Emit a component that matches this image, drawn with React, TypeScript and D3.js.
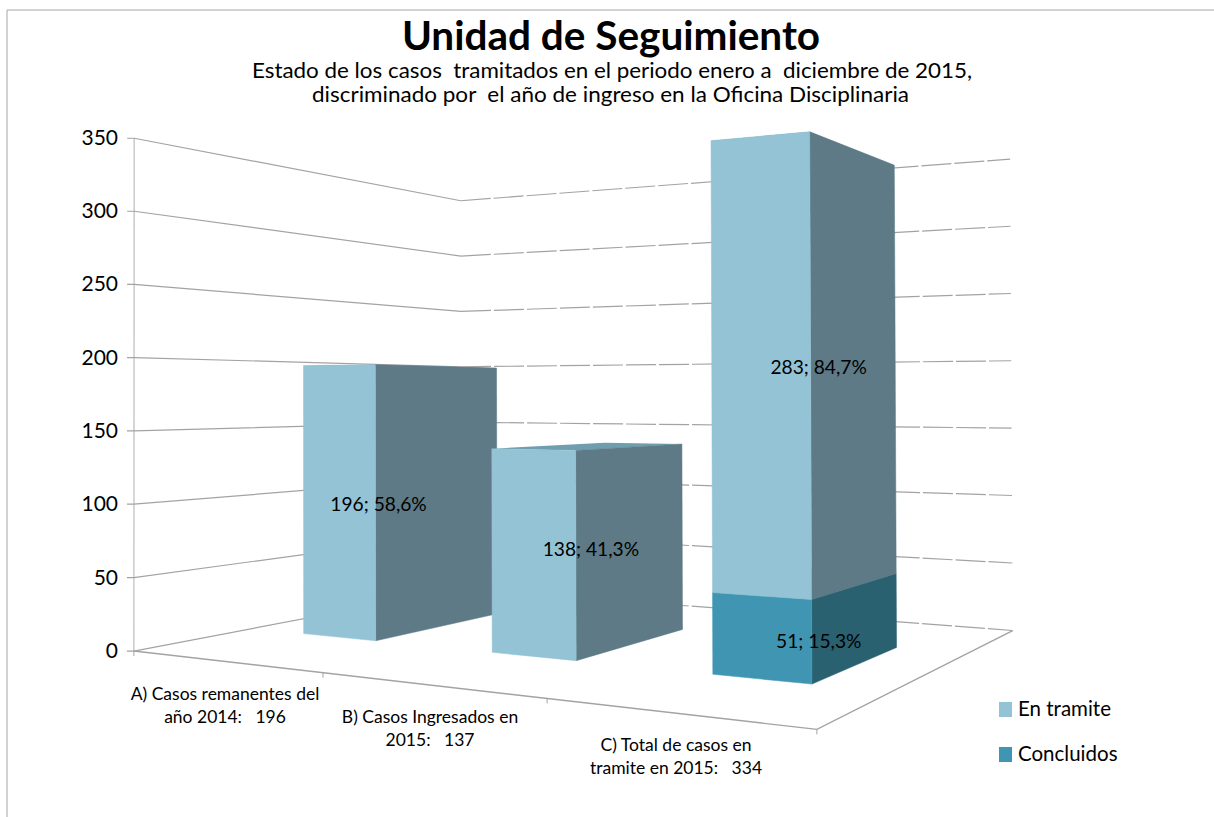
import React from 'react';
import * as d3 from 'd3';

const categories = ['A', 'B', 'C'];
const categoryLabels = [
  ['A) Casos remanentes del', 'año 2014:   196'],
  ['B) Casos Ingresados en', '2015:   137'],
  ['C) Total de casos en', 'tramite en 2015:   334'],
];
const concluidos = [0, 0, 51];
const enTramite = [196, 138, 283];
const labelsConcluidos = ['', '', '51; 15,3%'];
const labelsTramite = ['196; 58,6%', '138; 41,3%', '283; 84,7%'];
const yTicks = [0, 50, 100, 150, 200, 250, 300, 350];
const legendItems = ['En tramite', 'Concluidos'];

// puntos de la caja 3D -> pixeles de la imagen: [x, y, z, u, v]
const anchors = [
  [0, 0, 0, 134, 650],
  [1, 0, 0, 816, 729],
  [1, 0, 1, 1013, 630],
  [0, 0, 1, 461, 589],
  [0, 1, 0, 134, 138],
  [0, 1, 1, 461, 201],
  [1, 1, 1, 1010, 159],
  [1 / 3, 0, 0, 323, 673],
  [2 / 3, 0, 0, 548, 700],
];

// camara proyectiva por minimos cuadrados
function solveCamera(pts: number[][]) {
  const A: number[][] = [];
  const b: number[] = [];
  pts.forEach(([x, y, z, u0, v0]) => {
    const u = u0 / 1000;
    const v = v0 / 1000;
    A.push([x, y, z, 1, 0, 0, 0, 0, -u * x, -u * y, -u * z]);
    b.push(u);
    A.push([0, 0, 0, 0, x, y, z, 1, -v * x, -v * y, -v * z]);
    b.push(v);
  });
  const n = 11;
  const M = d3.range(n).map(i =>
    d3.range(n + 1).map(j =>
      j < n ? d3.sum(A, r => r[i] * r[j]) : d3.sum(A, (r, k) => r[i] * b[k])
    )
  );
  for (let c = 0; c < n; c++) {
    let piv = c;
    for (let r = c + 1; r < n; r++) if (Math.abs(M[r][c]) > Math.abs(M[piv][c])) piv = r;
    [M[c], M[piv]] = [M[piv], M[c]];
    for (let r = 0; r < n; r++) {
      if (r === c) continue;
      const f = M[r][c] / M[c][c];
      for (let j = c; j <= n; j++) M[r][j] -= f * M[c][j];
    }
  }
  return M.map((r, i) => r[n] / r[i]);
}

const cam = solveCamera(anchors);
const project = (x: number, y: number, z: number): [number, number] => {
  const w = cam[8] * x + cam[9] * y + cam[10] * z + 1;
  return [
    (1000 * (cam[0] * x + cam[1] * y + cam[2] * z + cam[3])) / w,
    (1000 * (cam[4] * x + cam[5] * y + cam[6] * z + cam[7])) / w,
  ];
};

const xBand = d3.scaleBand<string>().domain(categories).range([0, 1]).paddingInner(0.6).paddingOuter(0.3);
const yScale = d3.scaleLinear().domain([0, 350]).range([0, 1]);
const zFront = 0.3;
const zBack = 0.7;

const line = d3.line();
const font = 'Lato, sans-serif';
const grid = '#a3a3a3';

// ajuste fino de las etiquetas de datos (px)
const labelNudge = [[3, 2], [15, -6], [8, 3]];

const colors = {
  tramite: { front: '#93c3d5', side: '#5d7a86', top: '#6f9eaf' },
  concluidos: { front: '#4096b2', side: '#296170', top: '#4096b2' },
};

function Box({ cat, from, to, c }: any) {
  const x0 = xBand(cat)!;
  const x1 = x0 + xBand.bandwidth();
  const y0 = yScale(from);
  const y1 = yScale(to);
  const face = (pts: [number, number, number][]) => line(pts.map(p => project(p[0], p[1], p[2]))) + 'Z';
  return (
    <g>
      <path d={face([[x0, y1, zFront], [x1, y1, zFront], [x1, y1, zBack], [x0, y1, zBack]])} fill={c.top} />
      <path d={face([[x1, y0, zFront], [x1, y0, zBack], [x1, y1, zBack], [x1, y1, zFront]])} fill={c.side} stroke={c.side} strokeWidth={0.5} />
      <path d={face([[x0, y0, zFront], [x1, y0, zFront], [x1, y1, zFront], [x0, y1, zFront]])} fill={c.front} stroke={c.front} strokeWidth={0.5} />
    </g>
  );
}

export default function App() {
  const labelAt = (cat: string, from: number, to: number) =>
    project(xBand(cat)! + xBand.bandwidth(), yScale((from + to) / 2), zFront);

  return (
    <svg width={1214} height={817} style={{ position: 'fixed', left: 0, top: 0, background: '#fff' }}>
      {/* marco */}
      <path d="M7,817V10H1214" fill="none" stroke="#a6a6a6" strokeWidth={1} />

      <text x={611} y={50} textAnchor="middle" fontFamily={font} fontWeight={700} fontSize={40.5}>Unidad de Seguimiento</text>
      <text x={612} y={78} textAnchor="middle" fontFamily={font} fontSize={20.5} textLength={720} lengthAdjust="spacingAndGlyphs" style={{ whiteSpace: 'pre' }}>Estado de los casos  tramitados en el periodo enero a  diciembre de 2015,</text>
      <text x={610.5} y={102} textAnchor="middle" fontFamily={font} fontSize={20.5} textLength={597} lengthAdjust="spacingAndGlyphs" style={{ whiteSpace: 'pre' }}>discriminado por  el año de ingreso en la Oficina Disciplinaria</text>

      {/* paredes */}
      <path d={line([project(0, 0, 0), project(0, 1, 0)])!} stroke="#bdbdbd" strokeWidth={1.2} fill="none" />
      {yTicks.map(t => {
        const v = yScale(t);
        const p0 = project(0, v, 0);
        return (
          <g key={t}>
            <path d={line([[p0[0] - 7, p0[1]], p0, project(0, v, 1)])!} fill="none" stroke={grid} strokeWidth={1.2} />
            <path d={line([project(0, v, 1), project(1, v, 1)])!} fill="none" stroke={grid} strokeWidth={1.2} strokeDasharray="30 3" />
            <text x={118} y={p0[1] + 7} textAnchor="end" fontFamily={font} fontSize={21}>{t}</text>
          </g>
        );
      })}

      {/* piso */}
      <path d={line([project(0, 0, 0), project(1, 0, 0), project(1, 0, 1)])!} fill="none" stroke={grid} strokeWidth={1.4} />
      {[0, 1, 2, 3].map(i => {
        const p = project(i / 3, 0, 0);
        return <path key={i} d={line([p, [p[0], p[1] + 5]])!} stroke={grid} fill="none" />;
      })}

      {/* barras */}
      {categories.map((cat, i) => (
        <g key={cat}>
          {concluidos[i] > 0 && <Box cat={cat} from={0} to={concluidos[i]} c={colors.concluidos} />}
          <Box cat={cat} from={concluidos[i]} to={concluidos[i] + enTramite[i]} c={colors.tramite} />
        </g>
      ))}

      {/* etiquetas de datos */}
      {categories.map((cat, i) => {
        const a = labelAt(cat, concluidos[i], concluidos[i] + enTramite[i]);
        const b = labelAt(cat, 0, concluidos[i]);
        return (
          <g key={cat} fontFamily={font} fontSize={19.2} textAnchor="middle">
            <text x={a[0] + labelNudge[i][0]} y={a[1] + 6 + labelNudge[i][1]}>{labelsTramite[i]}</text>
            {labelsConcluidos[i] && <text x={b[0] + 7} y={b[1] + 6}>{labelsConcluidos[i]}</text>}
          </g>
        );
      })}

      {/* categorias */}
      {categoryLabels.map((lines, i) =>
        lines.map((l, j) => (
          <text key={l} x={[225, 430, 676][i]} y={[700, 723, 751][i] + j * 23} fontFamily={font} fontSize={17.5} textAnchor="middle" style={{ whiteSpace: 'pre' }}>{l}</text>
        ))
      )}

      {/* leyenda */}
      {legendItems.map((l, i) => (
        <g key={l}>
          <rect x={999} y={702 + i * 45} width={13} height={15} fill={i === 0 ? colors.tramite.front : colors.concluidos.front} />
          <text x={1018} y={716 + i * 45} fontFamily={font} fontSize={20.5}>{l}</text>
        </g>
      ))}
    </svg>
  );
}
